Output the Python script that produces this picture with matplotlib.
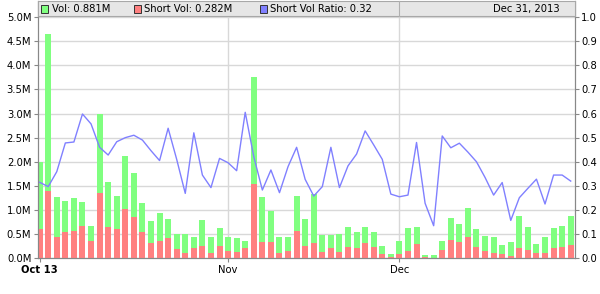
import numpy as np
import matplotlib
matplotlib.use('Agg')
import matplotlib.pyplot as plt
from matplotlib.patches import Rectangle
from matplotlib.lines import Line2D

# daily volume and short volume (millions), short-volume ratio
vol = [1.99, 4.65, 1.28, 1.19, 1.24, 1.16, 0.67, 3.00, 1.59, 1.30,
       2.12, 1.76, 1.14, 0.78, 0.93, 0.82, 0.51, 0.51, 0.44, 0.80,
       0.44, 0.63, 0.44, 0.42, 0.36, 3.76, 1.26, 0.99, 0.44, 0.44,
       1.30, 0.82, 1.34, 0.49, 0.49, 0.51, 0.65, 0.55, 0.65, 0.55,
       0.26, 0.09, 0.36, 0.63, 0.65, 0.07, 0.07, 0.36, 0.84, 0.72,
       1.05, 0.61, 0.47, 0.44, 0.28, 0.34, 0.88, 0.65, 0.30, 0.44,
       0.63, 0.67, 0.881]
short_vol = [0.61, 1.39, 0.44, 0.55, 0.57, 0.67, 0.36, 1.36, 0.65, 0.61,
             1.03, 0.86, 0.55, 0.32, 0.36, 0.42, 0.19, 0.11, 0.22, 0.26,
             0.11, 0.26, 0.15, 0.13, 0.22, 1.54, 0.34, 0.34, 0.11, 0.15,
             0.57, 0.26, 0.32, 0.13, 0.22, 0.13, 0.24, 0.22, 0.32, 0.24,
             0.09, 0.02, 0.08, 0.15, 0.30, 0.02, 0.01, 0.17, 0.37, 0.33,
             0.44, 0.23, 0.15, 0.11, 0.08, 0.05, 0.21, 0.18, 0.10, 0.10,
             0.21, 0.23, 0.282]
ratio = [0.315, 0.297, 0.359, 0.478, 0.482, 0.598, 0.557, 0.46, 0.428, 0.483,
         0.50, 0.51, 0.49, 0.446, 0.405, 0.539, 0.41, 0.269, 0.52, 0.345,
         0.293, 0.414, 0.396, 0.363, 0.605, 0.421, 0.283, 0.366, 0.272, 0.38,
         0.46, 0.327, 0.258, 0.297, 0.46, 0.293, 0.383, 0.432, 0.528, 0.47,
         0.41, 0.266, 0.255, 0.262, 0.48, 0.228, 0.135, 0.507, 0.458, 0.477,
         0.44, 0.40, 0.335, 0.262, 0.314, 0.157, 0.251, 0.29, 0.328, 0.225,
         0.345, 0.345, 0.32]
tick_idx = [0, 22, 42]
tick_labels = ['Oct 13', 'Nov', 'Dec']
vol_ticks = [0.0, 0.5, 1.0, 1.5, 2.0, 2.5, 3.0, 3.5, 4.0, 4.5, 5.0]
ratio_ticks = [0.0, 0.1, 0.2, 0.3, 0.4, 0.5, 0.6, 0.7, 0.8, 0.9, 1.0]

W, H = 600, 294
GREEN, RED, BLUE = '#80ff80', '#ff8080', '#8080ff'
GRID, SPINE = '#d8d8d8', '#888888'
FS = 7.2

fig = plt.figure(figsize=(W / 100, H / 100), dpi=100)
left, right, top, bot = 37.5, 575, 1, 258.3
ax = fig.add_axes([left / W, 1 - bot / H, (right - left) / W, (bot - top) / H])
ax2 = ax.twinx()

x = np.arange(len(vol))
ax.bar(x, vol, width=0.7, color=GREEN, zorder=2)
ax.bar(x, short_vol, width=0.7, color=RED, zorder=3)
ax2.plot(x, ratio, color=BLUE, lw=1.0, zorder=4)

ax.set_xlim(-0.25, len(vol) - 0.5)
ax.set_ylim(0, 5.0 + 16 / 48.26)
ax2.set_ylim(0, 1.0 + 16 / 241.3)

ax.set_yticks(vol_ticks)
ax.set_yticklabels([f'{v:.1f}M' for v in vol_ticks])
ax2.set_yticks(ratio_ticks)
ax2.set_yticklabels([f'{v:.1f}' for v in ratio_ticks])
ax.set_xticks(tick_idx)
ax.set_xticklabels(tick_labels)
ax.get_xticklabels()[0].set_fontweight('bold')

for a in (ax, ax2):
    a.tick_params(axis='both', labelsize=FS, length=3, width=0.8,
                  color=SPINE, pad=1.5)
    for s in a.spines.values():
        s.set_color(SPINE)
    a.spines['top'].set_visible(False)
ax.tick_params(axis='x', pad=2)

ax.grid(True, axis='y', color=GRID, lw=1.0, zorder=0)
ax.set_axisbelow(True)
for i in tick_idx[1:]:
    ax.axvline(i, color=GRID, lw=1.0, zorder=0)
ax.set_facecolor('white')

# legend strip across the top of the plot
def fx(px):
    return px / W

def fy(py):
    return 1 - py / H

fig.patches.append(Rectangle((fx(left), fy(16)), fx(right) - fx(left), fy(1) - fy(16),
                             transform=fig.transFigure, facecolor='#e6e6e6',
                             edgecolor='#a8a8a8', lw=0.8, zorder=5))
fig.lines.append(Line2D([fx(399), fx(399)], [fy(16), fy(1)], transform=fig.transFigure,
                        color='#b0b0b0', lw=0.8, zorder=6))
items = [(41, GREEN, f'Vol: {vol[-1]:.3f}M'),
         (133.5, RED, f'Short Vol: {short_vol[-1]:.3f}M'),
         (259.5, BLUE, f'Short Vol Ratio: {ratio[-1]:.2f}')]
for px, col, label in items:
    fig.patches.append(Rectangle((fx(px), fy(12.5)), fx(7) , fy(5.5) - fy(12.5),
                                 transform=fig.transFigure, facecolor=col,
                                 edgecolor='#333333', lw=0.7, zorder=6))
    fig.text(fx(px + 10.5), fy(9.3), label, fontsize=FS, va='center', ha='left',
             zorder=7)
fig.text(fx(560), fy(9.3), 'Dec 31, 2013', fontsize=FS, va='center', ha='right', zorder=7)

fig.savefig('out.png', dpi=100)
